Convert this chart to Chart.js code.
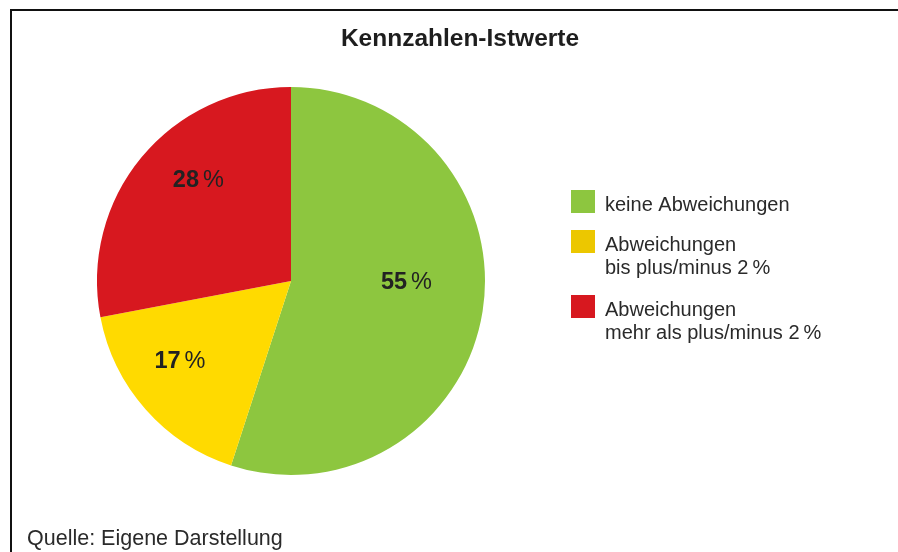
<!DOCTYPE html>
<html lang="de">
<head>
<meta charset="utf-8">
<title>Kennzahlen-Istwerte</title>
<script src="https://cdn.jsdelivr.net/npm/chart.js@4.4.1/dist/chart.umd.min.js"></script>
<style>
    html, body { margin: 0; padding: 0; background: #fff; }
    #wrap { position: relative; width: 898px; height: 552px; }
</style>
</head>
<body>
<div id="wrap"><canvas id="pieChart"></canvas></div>
<script>
// Data
const categories = [
    ['keine Abweichungen'],
    ['Abweichungen', 'bis plus/minus 2\u2009%'],
    ['Abweichungen', 'mehr als plus/minus 2\u2009%']
];
const shares = [55, 17, 28];
const sliceColors = ['#8dc63f', '#ffda00', '#d7181f'];
const legendColors = ['#8dc63f', '#ecc700', '#d7181f'];
const chartTitle = 'Kennzahlen-Istwerte';
const sourceNote = 'Quelle: Eigene Darstellung';

const FONT = '"Liberation Sans", Arial, Helvetica, sans-serif';

// Frame, title, legend, source note and slice labels
const decorPlugin = {
    id: 'decor',
    afterDraw(chart, args, opts) {
        const c = chart.ctx;
        c.save();

        // frame: only top and left edges are visible
        c.strokeStyle = '#111';
        c.lineWidth = 2;
        c.beginPath();
        c.moveTo(898, 10);
        c.lineTo(11, 10);
        c.lineTo(11, 552);
        c.stroke();

        // title
        c.fillStyle = '#1e1e1e';
        c.font = 'bold 24.5px ' + FONT;
        c.textAlign = 'center';
        c.textBaseline = 'alphabetic';
        c.fillText(chartTitle, 460, 46);

        // legend
        c.textAlign = 'left';
        c.font = '20px ' + FONT;
        const boxTops = [190, 230, 295];
        categories.forEach((lines, i) => {
            c.fillStyle = legendColors[i];
            c.fillRect(571, boxTops[i], 24, 23);
            c.fillStyle = '#2a2a2a';
            lines.forEach((line, j) => {
                c.fillText(line, 605, boxTops[i] + 21 + j * 23);
            });
        });

        // source
        c.fillStyle = '#2a2a2a';
        c.font = '21.5px ' + FONT;
        c.fillText(sourceNote, 27, 545);

        // slice labels
        const meta = chart.getDatasetMeta(0);
        meta.data.forEach((arc, i) => {
            const p = arc.getProps(['startAngle', 'endAngle', 'outerRadius', 'x', 'y'], true);
            const mid = (p.startAngle + p.endAngle) / 2;
            const r = p.outerRadius * 0.66;
            const nudge = opts.nudges[i];
            const cx = p.x + Math.cos(mid) * r + nudge[0];
            const cy = p.y + Math.sin(mid) * r + nudge[1];
            const num = String(shares[i]);
            c.font = 'bold 23.5px ' + FONT;
            const wNum = c.measureText(num).width;
            c.font = '23.5px ' + FONT;
            const wPct = c.measureText('%').width;
            const gap = 4;
            const x0 = cx - (wNum + gap + wPct) / 2;
            c.fillStyle = '#222';
            c.textBaseline = 'middle';
            c.font = 'bold 23.5px ' + FONT;
            c.fillText(num, x0, cy);
            c.font = '23.5px ' + FONT;
            c.fillText('%', x0 + wNum + gap, cy);
        });

        c.restore();
    }
};

new Chart(document.getElementById('pieChart'), {
    type: 'pie',
    data: {
        labels: categories,
        datasets: [{
            data: shares,
            backgroundColor: sliceColors,
            borderWidth: 0
        }]
    },
    options: {
        responsive: true,
        maintainAspectRatio: false,
        animation: false,
        layout: {
            padding: { left: 97, right: 413, top: 87, bottom: 77 }
        },
        plugins: {
            legend: { display: false },
            title: { display: false },
            tooltip: { enabled: false },
            decor: {
                nudges: [[-11, -19], [-15, -4], [6, -19]]
            }
        }
    },
    plugins: [decorPlugin]
});
</script>
</body>
</html>
